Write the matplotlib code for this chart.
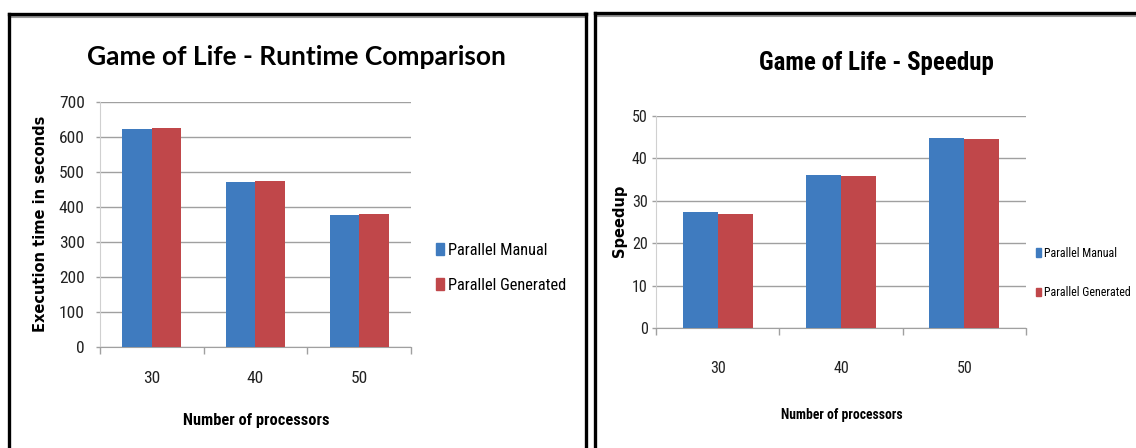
import os
import matplotlib
matplotlib.use("Agg")
import matplotlib.pyplot as plt
from matplotlib import font_manager
from matplotlib.font_manager import FontProperties
from matplotlib.lines import Line2D
from matplotlib.patches import Patch

# benchmark results for the game of life runs
processors = ["30", "40", "50"]
runtime_manual = [622, 470, 378]
runtime_generated = [627, 475, 380]
speedup_manual = [27.3, 36.1, 44.9]
speedup_generated = [27.0, 35.8, 44.6]
series_names = ["Parallel Manual", "Parallel Generated"]

BLUE = "#3F7BBF"
RED = "#C0474A"
W, H = 1136, 448


def narrow(size, weight="normal"):
    # first condensed/narrow face we can find, else plain Liberation Sans
    for fam in ["Roboto Condensed", "Liberation Sans Narrow", "Noto Sans", "Open Sans",
                "DejaVu Sans", "Roboto"]:
        prop = FontProperties(family=fam, stretch="condensed", weight=weight)
        try:
            path = font_manager.findfont(prop, fallback_to_default=False)
        except ValueError:
            continue
        name = os.path.basename(path)
        if any(k in name for k in ("Condensed", "Narrow", "Cond")):
            return FontProperties(fname=path, size=size)
    return FontProperties(family="Liberation Sans", weight=weight, size=size)


def px_axes(fig, x0, y0, x1, y1):
    # pixel box measured from top left -> figure axes
    return fig.add_axes([x0 / W, (H - y1) / H, (x1 - x0) / W, (y1 - y0) / H])


def fig_xy(x, y):
    return x / W, (H - y) / H


def frame(fig, x0, y0, x1, y1):
    # thick black border with a thin grey shadow under the top edge
    fx = lambda v: v / W
    fy = lambda v: (H - v) / H
    fig.add_artist(Line2D([fx(x0), fx(x1)], [fy(y0 + 3), fy(y0 + 3)], color="#9a9a9a", lw=1.5))
    fig.add_artist(Line2D([fx(x0), fx(x1)], [fy(y0), fy(y0)], color="black", lw=2.4))
    fig.add_artist(Line2D([fx(x0), fx(x0)], [fy(y0), fy(y1)], color="black", lw=2.4))
    if x1 < W:
        fig.add_artist(Line2D([fx(x1), fx(x1)], [fy(y0), fy(y1)], color="black", lw=2.4))


def bar_panel(ax, manual, generated, ymax, step, tick_font, xpad, ypad):
    x = range(len(processors))
    bw = 0.285
    ax.bar([i - bw / 2 for i in x], manual, bw, color=BLUE, zorder=3)
    ax.bar([i + bw / 2 for i in x], generated, bw, color=RED, zorder=3)
    ax.set_xlim(-0.5, len(processors) - 0.5)
    ax.set_ylim(0, ymax)
    ax.set_yticks(range(0, ymax + 1, step))
    ax.set_xticks(list(x))
    ax.set_xticklabels(processors)
    ax.set_xticks([i - 0.5 for i in range(len(processors) + 1)], minor=True)
    ax.tick_params(axis="x", which="major", length=0, pad=xpad)
    ax.tick_params(axis="x", which="minor", length=5, width=1, color="#a0a0a0", direction="out")
    ax.tick_params(axis="y", length=3, width=1, color="#a0a0a0", pad=ypad)
    for lab in ax.get_xticklabels() + ax.get_yticklabels():
        lab.set_fontproperties(tick_font)
        lab.set_color("#222222")
    ax.grid(axis="y", color="#a0a0a0", lw=1, zorder=0)
    for side in ("top", "right"):
        ax.spines[side].set_visible(False)
    ax.spines["left"].set_color("#d0d0d0")
    ax.spines["bottom"].set_color("#a0a0a0")


fig = plt.figure(figsize=(W / 100, H / 100), dpi=100)
fig.patch.set_facecolor("white")

frame(fig, 9, 14, 586, H + 5)
frame(fig, 595, 13, W + 5, H + 5)

handles = [Patch(color=BLUE), Patch(color=RED)]

# runtime comparison
ax1 = px_axes(fig, 100, 102, 411, 347)
bar_panel(ax1, runtime_manual, runtime_generated, 700, 100, narrow(12.5), 17.5, 8)
fig.text(*fig_xy(296, 57), "Game of Life - Runtime Comparison", ha="center", va="center",
         fontsize=19, fontweight="bold", family="Lato")
fig.text(*fig_xy(41, 224), "Execution time in seconds", rotation=90, ha="center", va="center",
         fontsize=10.5, fontweight="bold", family="DejaVu Sans")
fig.text(*fig_xy(256, 420), "Number of processors", ha="center", va="center",
         fontproperties=narrow(11.8, "bold"))
fig.legend(handles, series_names, loc="center left", bbox_to_anchor=fig_xy(436, 268),
           frameon=False, borderaxespad=0, borderpad=0, handlelength=0.5, handleheight=0.75,
           handletextpad=0.25, labelspacing=1.2, prop=narrow(11.8))

# speedup
ax2 = px_axes(fig, 656, 116, 1026, 328)
bar_panel(ax2, speedup_manual, speedup_generated, 50, 10, narrow(11.5), 23.5, 3)
fig.text(*fig_xy(876, 63), "Game of Life - Speedup", ha="center", va="center",
         fontproperties=narrow(18, "bold"))
fig.text(*fig_xy(619, 221), "Speedup", rotation=90, ha="center", va="center",
         fontsize=10.5, fontweight="bold", family="DejaVu Sans")
fig.text(*fig_xy(842, 415), "Number of processors", ha="center", va="center",
         fontproperties=narrow(9.8, "bold"))
fig.legend(handles, series_names, loc="center left", bbox_to_anchor=fig_xy(1036, 273),
           frameon=False, borderaxespad=0, borderpad=0, handlelength=0.45, handleheight=0.7,
           handletextpad=0.25, labelspacing=2.2, prop=narrow(8.6))

fig.savefig("out.png", dpi=100)
